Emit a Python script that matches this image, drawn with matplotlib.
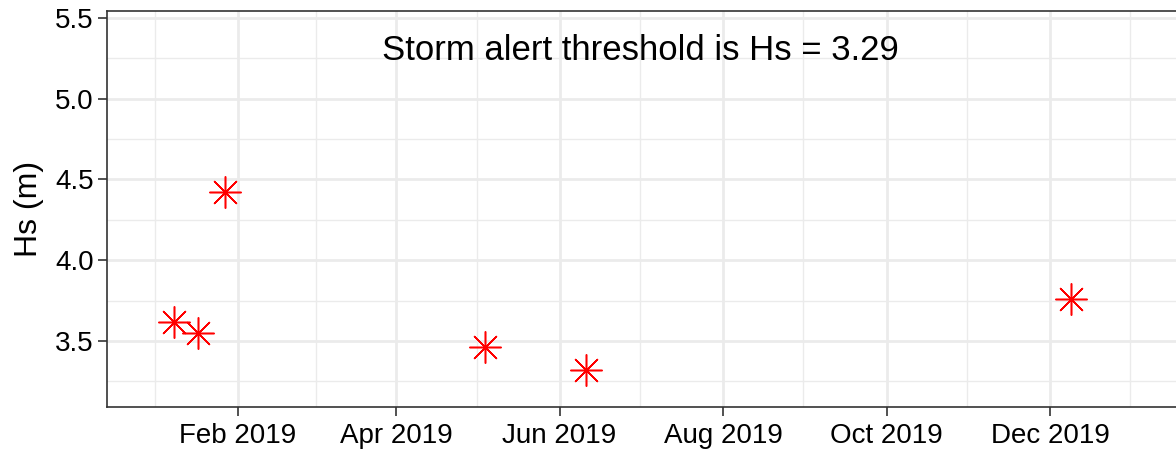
import matplotlib
matplotlib.use("Agg")
import matplotlib.pyplot as plt
import matplotlib.dates as mdates
import numpy as np
import pandas as pd

plt.rcParams['font.family'] = ['Liberation Sans', 'DejaVu Sans']

# storm events above threshold
dates = pd.to_datetime(["2019-01-08", "2019-01-17", "2019-01-27",
                        "2019-05-04", "2019-06-11", "2019-12-09"])
hs = [3.62, 3.55, 4.42, 3.46, 3.32, 3.76]
threshold = 3.29

major_ticks = pd.to_datetime(["2019-02-01", "2019-04-01", "2019-06-01",
                              "2019-08-01", "2019-10-01", "2019-12-01"])
minor_ticks = pd.to_datetime(["2019-01-01", "2019-03-02", "2019-05-01",
                              "2019-07-01", "2019-08-31", "2019-10-31", "2019-12-31"])
y_major = [3.5, 4.0, 4.5, 5.0, 5.5]
y_minor = [3.25, 3.75, 4.25, 4.75, 5.25]

W, H = 1176, 455
fig = plt.figure(figsize=(W / 100, H / 100), dpi=100)
fig.patch.set_facecolor("white")
left, right, top, bottom = 107, 1180, 11, 407
ax = fig.add_axes([left / W, 1 - bottom / H, (right - left) / W, (bottom - top) / H])

feb1 = pd.Timestamp("2019-02-01")
px_per_day = 2.68
ax.set_xlim(feb1 - pd.Timedelta(days=(238 - left) / px_per_day),
            feb1 + pd.Timedelta(days=(right - 238) / px_per_day))
ax.set_ylim(3.091, 5.543)

# grid
for d in minor_ticks:
    ax.axvline(d, color="#EBEBEB", lw=1.0, zorder=0)
for d in major_ticks:
    ax.axvline(d, color="#EBEBEB", lw=2.0, zorder=0)
for v in y_minor:
    ax.axhline(v, color="#EBEBEB", lw=1.0, zorder=0)
for v in y_major:
    ax.axhline(v, color="#EBEBEB", lw=2.0, zorder=0)

ax.plot(dates, hs, linestyle="none", marker=(8, 2, 0), markersize=23,
        markeredgecolor="#FF0000", markeredgewidth=1.1, color="#FF0000", zorder=3)

ax.set_xticks(major_ticks)
ax.xaxis.set_major_formatter(mdates.DateFormatter("%b %Y"))
ax.set_yticks(y_major)
ax.set_yticklabels([f"{v:.1f}" for v in y_major])
ax.tick_params(axis="both", labelsize=20, colors="#333333", length=6.5, width=1.2,
               labelcolor="black", pad=3)
ax.tick_params(axis="x", pad=5)

for s in ax.spines.values():
    s.set_color("#333333")
    s.set_linewidth(1.2)

ax.set_ylabel("Hs (m)", fontsize=23, labelpad=8)

ax.text(pd.Timestamp("2019-07-01"), 5.30, f"Storm alert threshold is Hs = {threshold}",
        fontsize=25, ha="center", va="center")

fig.savefig("out.png", dpi=100)
